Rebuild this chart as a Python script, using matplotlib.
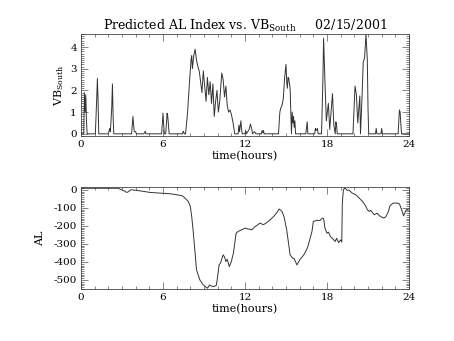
import numpy as np
import matplotlib
matplotlib.use("Agg")
import matplotlib.pyplot as plt
from matplotlib.ticker import MultipleLocator, AutoMinorLocator

# VB_South
vb_t = [0.0, 0.2, 0.25, 0.3, 0.35, 0.4, 0.45,
        1.05, 1.15, 1.2, 1.25, 1.3,
        2.0, 2.1, 2.15, 2.25, 2.3, 2.35, 2.4,
        3.7, 3.8, 3.85, 3.9, 4.0, 4.05,
        4.6, 4.7, 4.75,
        5.9, 6.0, 6.05, 6.1, 6.2, 6.3, 6.35, 6.45,
        7.4, 7.5, 7.55, 7.65, 7.8, 7.95, 8.05, 8.1, 8.15, 8.25, 8.35, 8.45, 8.55,
        8.65, 8.75, 8.85, 8.95, 9.05, 9.15, 9.25, 9.35, 9.45, 9.55, 9.65, 9.75,
        9.85, 9.95, 10.05, 10.15, 10.3, 10.4, 10.5, 10.6, 10.7, 10.8, 10.9, 11.0,
        11.1, 11.25,
        11.5, 11.55, 11.6, 11.7, 11.75, 11.8,
        12.0, 12.05, 12.1, 12.3, 12.4, 12.5, 12.55, 12.7, 12.8, 13.2, 13.25, 13.3,
        13.35, 13.4,
        14.45, 14.55, 14.6, 14.7, 14.8, 14.9, 15.0, 15.05, 15.1, 15.15, 15.2, 15.3,
        15.4, 15.45, 15.5, 15.55, 15.6, 15.65, 15.7,
        16.45, 16.55, 16.6,
        17.1, 17.15, 17.2, 17.3, 17.35,
        17.6, 17.7, 17.75, 17.85, 17.95, 18.1, 18.2, 18.3, 18.4, 18.5, 18.6, 18.65,
        18.7, 18.75,
        19.9, 20.05, 20.15, 20.25, 20.4, 20.45, 20.55, 20.65, 20.75, 20.85, 20.95,
        21.0, 21.05,
        21.55, 21.6, 21.65, 21.95, 22.0, 22.05,
        23.2, 23.3, 23.35, 23.45, 24.0]
vb_val = [0, 0, 1.9, 1.0, 1.8, 0.6, 0,
          0, 1.6, 2.55, 1.5, 0,
          0, 0.25, 0.1, 1.2, 2.3, 0.8, 0,
          0, 0.8, 0.4, 0.1, 0.1, 0,
          0, 0.12, 0,
          0, 0.95, 0.4, 0, 0, 0.95, 0.8, 0,
          0, 0.12, 0, 0, 1.0, 2.5, 3.4, 3.6, 3.0, 3.6, 3.9, 3.4, 3.1,
          2.9, 2.4, 1.9, 2.9, 2.2, 1.5, 2.6, 1.8, 2.4, 1.4, 2.3, 0.8,
          1.5, 2.0, 1.0, 1.5, 2.8, 2.5, 1.7, 2.2, 1.3, 1.0, 1.1, 0.9,
          0.6, 0,
          0, 0.4, 0.1, 0.6, 0.2, 0,
          0, 0.15, 0, 0.2, 0.45, 0.2, 0, 0.1, 0, 0, 0.15, 0.05,
          0.15, 0,
          0, 1.0, 1.15, 1.3, 1.6, 2.6, 3.2, 2.4, 2.1, 2.6, 2.55, 2.1,
          0, 1.0, 0.5, 0.8, 0.3, 0.6, 0,
          0, 0.55, 0,
          0, 0.25, 0.15, 0.25, 0,
          0, 2.5, 4.4, 2.4, 0.6, 1.4, 0.2, 1.0, 1.85, 0.4, 0, 0.55,
          0.4, 0,
          0, 2.2, 1.8, 0.5, 1.75, 0, 1.5, 3.3, 3.5, 4.6, 3.4,
          1.2, 0,
          0, 0.25, 0, 0, 0.25, 0,
          0, 1.1, 1.0, 0, 0]

# AL index
al_t = [0.0, 1.0, 2.0, 2.7, 3.1, 3.35, 3.45, 3.65, 4.3, 5.05, 5.8, 6.5, 7.0,
        7.4, 7.6, 7.85, 8.0, 8.1, 8.2, 8.35, 8.45, 8.7, 8.95, 9.25, 9.4, 9.5,
        9.7, 9.9, 10.0, 10.1, 10.2, 10.4, 10.5, 10.6, 10.7, 10.85, 11.0, 11.15,
        11.35, 11.5, 11.75, 12.0, 12.25, 12.5, 12.7, 13.1, 13.35, 13.7, 14.1,
        14.3, 14.5, 14.7, 14.85, 15.05, 15.2, 15.3, 15.5, 15.6, 15.8, 16.0, 16.3,
        16.5, 16.6, 16.9, 17.0, 17.25, 17.5, 17.65, 17.75, 17.85, 18.0, 18.1,
        18.25, 18.45, 18.6, 18.7, 18.85, 19.0, 19.08, 19.12, 19.2, 19.3, 19.5,
        19.6, 19.85, 20.1, 20.35, 20.6, 20.85, 20.95, 21.1, 21.2, 21.45, 21.65,
        21.9, 22.15, 22.3, 22.5, 22.6, 22.85, 23.1, 23.3, 23.5, 23.6, 23.8, 24.0]
al_val = [8, 8, 8, 8, -4, -15, -12, 0, -6, -15, -19, -22, -28,
          -33, -46, -65, -93, -148, -222, -352, -444, -500, -528, -546, -528, -532,
          -537, -530, -481, -417, -407, -361, -372, -398, -385, -426, -398, -352,
          -241, -231, -222, -213, -218, -222, -207, -185, -194, -176, -148,
          -130, -107, -120, -148, -222, -305, -361, -380, -382, -417, -389, -361,
          -333, -315, -231, -176, -170, -170, -157, -160, -213, -241, -235,
          -259, -274, -287, -269, -293, -278, -290, -74, 0, 9, -4,
          -2, -19, -28, -46, -65, -93, -111, -120, -114, -139, -130,
          -148, -157, -150, -120, -89, -74, -74, -78, -120, -145, -111, -105]

plt.rcParams['font.family'] = ['DejaVu Serif']
plt.rcParams['font.size'] = 7.5
plt.rcParams['mathtext.fontset'] = 'dejavuserif'
plt.rcParams['axes.unicode_minus'] = False

fig = plt.figure(figsize=(4.54, 3.41), dpi=100)
ax1 = fig.add_axes([0.1784, 0.6012, 0.7225, 0.2991])
ax2 = fig.add_axes([0.1784, 0.1525, 0.7225, 0.2991])

ax1.plot(vb_t, vb_val, color='#333333', lw=0.7)
ax1.set_xlim(0, 24)
ax1.set_ylim(-0.1, 4.6)
ax1.yaxis.set_major_locator(MultipleLocator(1))
ax1.set_ylabel('VB$_{\\mathregular{South}}$', labelpad=3, fontsize=8)

ax2.plot(al_t, al_val, color='#333333', lw=0.7)
ax2.set_xlim(0, 24)
ax2.set_ylim(-550, 15)
ax2.yaxis.set_major_locator(MultipleLocator(100))
ax2.set_ylabel('AL', labelpad=6, fontsize=8)

for ax in (ax1, ax2):
    ax.xaxis.set_major_locator(MultipleLocator(6))
    ax.xaxis.set_minor_locator(MultipleLocator(1))
    ax.yaxis.set_minor_locator(AutoMinorLocator(10))
    ax.tick_params(which='both', direction='in', top=True, right=True,
                   width=0.5, color='#555555')
    ax.tick_params(which='major', length=5, pad=3)
    ax.tick_params(which='minor', length=2.5)
    ax.set_xlabel('time(hours)', labelpad=1, fontsize=8)
    for s in ax.spines.values():
        s.set_linewidth(0.6)
        s.set_color('#444444')

ax1.set_title('Predicted AL Index vs. VB$_{\\mathregular{South}}$     02/15/2001',
              fontsize=9, pad=3)

fig.savefig('out.png', dpi=100)
